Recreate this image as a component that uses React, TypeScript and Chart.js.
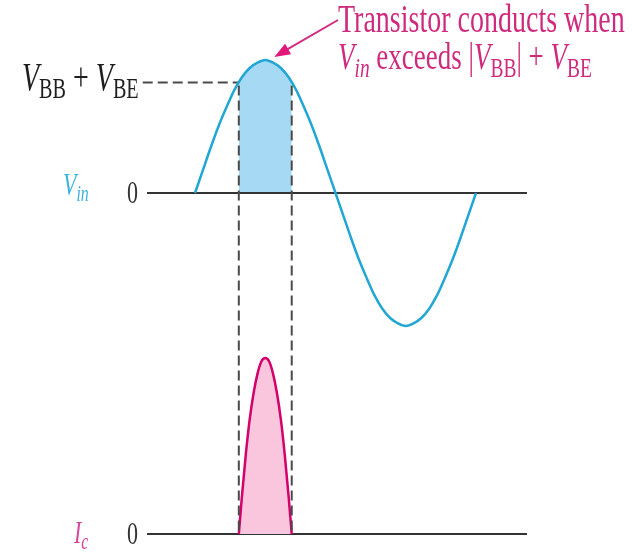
import React, { useEffect, useRef } from "react";
import { Chart, registerables } from "chart.js";

Chart.register(...registerables);

// ---- data (phase in degrees) ----
const vinX = [0, 10, 20, 30, 40, 50, 60, 70, 80, 90, 100, 110, 120, 130, 140, 150, 160, 170, 180,
  190, 200, 210, 220, 230, 240, 250, 260, 270, 280, 290, 300, 310, 320, 330, 340, 350, 360];
const vinY = [0, 0.17, 0.34, 0.5, 0.64, 0.77, 0.87, 0.94, 0.98, 1, 0.98, 0.94, 0.87, 0.77, 0.64, 0.5, 0.34, 0.17, 0,
  -0.17, -0.34, -0.5, -0.64, -0.77, -0.87, -0.94, -0.98, -1, -0.98, -0.94, -0.87, -0.77, -0.64, -0.5, -0.34, -0.17, 0];

const threshold = 0.83; // |VBB| + VBE relative to Vin peak
const conductStart = 56.1;
const conductEnd = 123.9;

const shadeX = [56.1, 60, 65, 70, 75, 80, 85, 90, 95, 100, 105, 110, 115, 120, 123.9];
const shadeY = [0.83, 0.866, 0.906, 0.94, 0.966, 0.985, 0.996, 1, 0.996, 0.985, 0.966, 0.94, 0.906, 0.866, 0.83];

const icX = [56.1, 60, 65, 70, 75, 80, 85, 90, 95, 100, 105, 110, 115, 120, 123.9];
const icY = [0, 0.21, 0.45, 0.65, 0.8, 0.91, 0.98, 1, 0.98, 0.91, 0.8, 0.65, 0.45, 0.21, 0];

const axisStart = -61.5;
const axisEnd = 425.3;
const dashStart = -67;

const zip = (xs: number[], ys: number[]) => xs.map((x, i) => ({ x, y: ys[i] }));

type Seg = { t: string; italic?: boolean; sub?: boolean };
const SERIF = '"Liberation Serif", "DejaVu Serif", serif';
const SY = 1.42;

function drawRich(ctx: CanvasRenderingContext2D, segs: Seg[], x: number, y: number, size: number, color: string) {
  let cx = x;
  ctx.save();
  ctx.fillStyle = color;
  ctx.textBaseline = "alphabetic";
  ctx.textAlign = "left";
  for (const s of segs) {
    const sz = s.sub ? size * 0.72 : size;
    ctx.font = `${s.italic ? "italic " : ""}${sz}px ${SERIF}`;
    const w = ctx.measureText(s.t).width;
    ctx.save();
    ctx.translate(cx, y + (s.sub ? size * 0.2 * SY : 0));
    ctx.scale(1, SY);
    ctx.fillText(s.t, 0, 0);
    ctx.restore();
    cx += w;
  }
  ctx.restore();
  return cx - x;
}

const annot = {
  id: "annot",
  afterDatasetsDraw(chart: any) {
    const ctx: CanvasRenderingContext2D = chart.ctx;
    const xs = chart.scales.x;
    const yv = chart.scales.y;
    const yi = chart.scales.yI;

    // vertical dashed lines
    ctx.save();
    ctx.setLineDash([10, 5]);
    ctx.strokeStyle = "#4a4a4a";
    ctx.lineWidth = 2;
    for (const a of [conductStart, conductEnd]) {
      const px = xs.getPixelForValue(a);
      ctx.beginPath();
      ctx.moveTo(px, yv.getPixelForValue(threshold) + 3);
      ctx.lineTo(px, yi.getPixelForValue(0));
      ctx.stroke();
    }
    ctx.restore();

    const pink = "#cf2b7e";
    // annotation text
    drawRich(ctx, [{ t: "Transistor conducts when" }], 338, 32, 28, pink);
    drawRich(ctx, [
      { t: "V", italic: true }, { t: "in", italic: true, sub: true },
      { t: " exceeds |" }, { t: "V", italic: true }, { t: "BB", sub: true },
      { t: "| + " }, { t: "V", italic: true }, { t: "BE", sub: true },
    ], 338, 69, 27, pink);

    // arrow
    const tipX = xs.getPixelForValue(90) + 9;
    const tipY = yv.getPixelForValue(1) - 3;
    const sx = 338, sy = 20;
    const ang = Math.atan2(tipY - sy, tipX - sx);
    ctx.save();
    ctx.strokeStyle = "#d42a7e";
    ctx.fillStyle = "#e0187a";
    ctx.lineWidth = 2;
    ctx.beginPath();
    ctx.moveTo(sx, sy);
    ctx.lineTo(tipX - 12 * Math.cos(ang), tipY - 12 * Math.sin(ang));
    ctx.stroke();
    ctx.beginPath();
    ctx.moveTo(tipX, tipY);
    ctx.lineTo(tipX - 16 * Math.cos(ang) + 6 * Math.sin(ang), tipY - 16 * Math.sin(ang) - 6 * Math.cos(ang));
    ctx.lineTo(tipX - 16 * Math.cos(ang) - 6 * Math.sin(ang), tipY - 16 * Math.sin(ang) + 6 * Math.cos(ang));
    ctx.closePath();
    ctx.fill();
    ctx.restore();

    // left labels
    const thrY = yv.getPixelForValue(threshold);
    drawRich(ctx, [
      { t: "V", italic: true }, { t: "BB", sub: true }, { t: " + " },
      { t: "V", italic: true }, { t: "BE", sub: true },
    ], 22, thrY + 7, 28, "#1e1e1e");

    const z1 = yv.getPixelForValue(0);
    drawRich(ctx, [{ t: "V", italic: true }, { t: "in", italic: true, sub: true }], 63, z1 + 2, 22, "#3ab3dd");
    drawRich(ctx, [{ t: "0" }], 127, z1 + 10, 22, "#333333");

    const z2 = yi.getPixelForValue(0);
    drawRich(ctx, [{ t: "I", italic: true }, { t: "c", italic: true, sub: true }], 74, z2 + 9, 22, "#d8489a");
    drawRich(ctx, [{ t: "0" }], 127, z2 + 10, 22, "#333333");
  },
};

export default function App() {
  const ref = useRef<HTMLCanvasElement>(null);
  useEffect(() => {
    document.body.style.margin = "0";
    const canvas = ref.current!;
    const chart = new Chart(canvas, {
      type: "line",
      data: {
        datasets: [
          {
            data: zip(vinX, vinY), yAxisID: "y", borderColor: "#22a6d4", borderWidth: 2.5,
            pointRadius: 0, fill: false, cubicInterpolationMode: "monotone", order: 1,
          },
          {
            data: zip(icX, icY), yAxisID: "yI", borderColor: "#d4006c", borderWidth: 2.5,
            backgroundColor: "#f9c6dd", pointRadius: 0, fill: "origin", cubicInterpolationMode: "monotone", order: 1,
          },
          {
            data: [{ x: axisStart, y: 0 }, { x: axisEnd, y: 0 }], yAxisID: "y", borderColor: "#333333",
            borderWidth: 2, pointRadius: 0, fill: false, order: 2,
          },
          {
            data: [{ x: axisStart, y: 0 }, { x: axisEnd, y: 0 }], yAxisID: "yI", borderColor: "#333333",
            borderWidth: 2, pointRadius: 0, fill: false, order: 2,
          },
          {
            data: [{ x: dashStart, y: threshold }, { x: conductStart, y: threshold }], yAxisID: "y",
            borderColor: "#4a4a4a", borderWidth: 2, borderDash: [10, 5], pointRadius: 0, fill: false, order: 2,
          },
          {
            data: zip(shadeX, shadeY), yAxisID: "y", borderWidth: 0, borderColor: "rgba(0,0,0,0)",
            backgroundColor: "#a6d9f3", pointRadius: 0, fill: "origin", cubicInterpolationMode: "monotone", order: 5,
          },
        ],
      },
      options: {
        responsive: false,
        animation: false,
        devicePixelRatio: 1,
        layout: { padding: { left: 140, right: 92, top: 0, bottom: 0 } },
        plugins: { legend: { display: false }, tooltip: { enabled: false } },
        events: [],
        scales: {
          x: { type: "linear", min: -70.5, max: 442, display: false },
          y: { type: "linear", min: -2.699, max: 1.451, display: false },
          yI: { type: "linear", position: "left", min: -0.1023, max: 3.034, display: false },
        },
      },
      plugins: [annot],
    } as any);
    return () => chart.destroy();
  }, []);
  return (
    <div style={{ width: 632, height: 552, background: "#fff" }}>
      <canvas ref={ref} width={632} height={552} style={{ display: "block" }} />
    </div>
  );
}
